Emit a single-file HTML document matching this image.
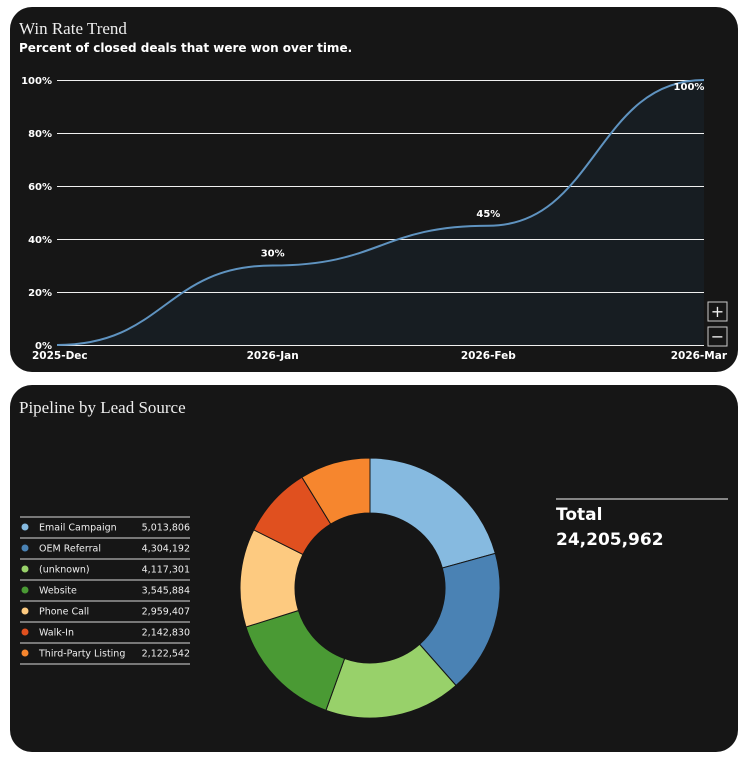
<!DOCTYPE html>
<html><head><meta charset="utf-8"><style>
body{margin:0;background:#fff;width:749px;height:759px;position:relative;overflow:hidden;font-family:"Liberation Sans","DejaVu Sans",sans-serif}
.card{position:absolute;left:10px;width:728px;background:#161616;border-radius:22px;overflow:hidden}
.t{position:absolute;left:9px;color:#eee;font-family:"Liberation Serif",serif;font-size:17px}
.sub{position:absolute;left:9px;top:34px;color:#fff;font-weight:bold;font-size:12px;font-family:"DejaVu Sans",sans-serif}
svg text{font-family:"DejaVu Sans",sans-serif}
</style></head><body>
<div class="card" style="top:7px;height:365px">
<div class="t" style="top:12px">Win Rate Trend</div>
<div class="sub">Percent of closed deals that were won over time.</div>
</div>
<div class="card" style="top:385px;height:367px">
<div class="t" style="top:13px">Pipeline by Lead Source</div>
</div>
<svg id="s" width="749" height="759" style="position:absolute;left:0;top:0"></svg>
<script>
const months=["2025-Dec","2026-Jan","2026-Feb","2026-Mar"];
const winRate=[0,30,45,100];
const yTicks=[0,20,40,60,80,100];
const sources=["Email Campaign","OEM Referral","(unknown)","Website","Phone Call","Walk-In","Third-Party Listing"];
const amounts=[5013806,4304192,4117301,3545884,2959407,2142830,2122542];
const colors=["#86bae0","#4a82b4","#98d16a","#4a9a34","#fdca80","#e0501f","#f6862e"];
const NS="http://www.w3.org/2000/svg",s=document.getElementById('s');
function mk(t,a,p){const e=document.createElementNS(NS,t);for(const k in a)e.setAttribute(k,a[k]);(p||s).appendChild(e);return e;}
const x0=57,x1=704,y0=345,y1=80;
const X=i=>x0+(x1-x0)*i/(months.length-1), Y=v=>y0-(y0-y1)*v/100;
let d=`M${X(0)},${Y(winRate[0])}`;
for(let i=1;i<winRate.length;i++){const xm=(X(i-1)+X(i))/2;d+=` C${xm},${Y(winRate[i-1])} ${xm},${Y(winRate[i])} ${X(i)},${Y(winRate[i])}`;}
const ar=mk('path',{d:d+` L${X(winRate.length-1)},${y0} L${x0},${y0}Z`,fill:'#171d22'});


yTicks.forEach(v=>{
 const yy=Math.round(Y(v))+0.5;
 const l=mk('line',{x1:x0,x2:x1,y1:yy,y2:yy,stroke:'#f0f0f0','stroke-width':1});
 
 
 const t=mk('text',{x:52,y:Y(v)+4,fill:'#fff','font-size':10,'font-weight':'bold','text-anchor':'end'});t.textContent=v+'%';
 
 
});
const ln=mk('path',{d,fill:'none',stroke:'#5f93c0','stroke-width':2});


months.forEach((m,i)=>{
 const t=mk('text',{x:X(i),y:359,fill:'#fff','font-size':10.5,'font-weight':'bold','text-anchor':i==0?'start':i==months.length-1?'end':'middle'});
 if(i==0)t.setAttribute('x',X(i)-25);
 if(i==months.length-1)t.setAttribute('x',X(i)+23);
 t.textContent=m;
 
 
 if(i>0){const lb=mk('text',{x:i==months.length-1?X(i)-15:X(i),y:Y(winRate[i])-(i==months.length-1?-10:9),fill:'#fff','font-size':10,'font-weight':'bold','text-anchor':'middle'});lb.textContent=winRate[i]+'%';
 
 }
});
[["+",302],["−",327]].forEach(([c,y])=>{
 const g=mk('g',{});
 
 
 mk('rect',{x:708,y,width:19,height:19,fill:'#161616',stroke:'#ccc','stroke-width':1},g);
 const t=mk('text',{x:717.5,y:y+15,fill:'#eee','font-size':16,'text-anchor':'middle'},g);t.textContent=c;
});
const cx=370,cy=588,R=130,r=75,tot=amounts.reduce((a,b)=>a+b,0);
let a=0;
amounts.forEach((v,i)=>{
 const a2=a+v/tot*2*Math.PI,p=(ang,rr)=>[cx+rr*Math.sin(ang),cy-rr*Math.cos(ang)];
 const [ax,ay]=p(a,R),[bx,by]=p(a2,R),[cx2,cy2]=p(a2,r),[dx,dy]=p(a,r),lg=a2-a>Math.PI?1:0;
 const sl=mk('path',{d:`M${ax},${ay}A${R},${R} 0 ${lg} 1 ${bx},${by}L${cx2},${cy2}A${r},${r} 0 ${lg} 0 ${dx},${dy}Z`,fill:colors[i],stroke:'#161616','stroke-width':1});
 
 
 a=a2;
 const y=527+i*21;
 mk('line',{x1:20,x2:190,y1:y-10,y2:y-10,stroke:'#999','stroke-width':1.5});
 const dot=mk('circle',{cx:25,cy:y,r:3.5,fill:colors[i]});
 
 
 const t=mk('text',{x:39,y:y+3.5,fill:'#eee','font-size':9.5});t.textContent=sources[i];
 
 
 const n=mk('text',{x:190,y:y+3.5,fill:'#eee','font-size':9.5,'text-anchor':'end'});n.textContent=v.toLocaleString('en-US');
 
 
});
mk('line',{x1:20,x2:190,y1:527+7*21-10,y2:527+7*21-10,stroke:'#999','stroke-width':1.5});
mk('line',{x1:556,x2:728,y1:499,y2:499,stroke:'#aaa','stroke-width':1.5});
const tl=mk('text',{x:556,y:520,fill:'#fff','font-size':17,'font-weight':'bold'});tl.textContent='Total';


const tv=mk('text',{x:556,y:545,fill:'#fff','font-size':17,'font-weight':'bold'});tv.textContent=tot.toLocaleString('en-US');


</script>
</body></html>
